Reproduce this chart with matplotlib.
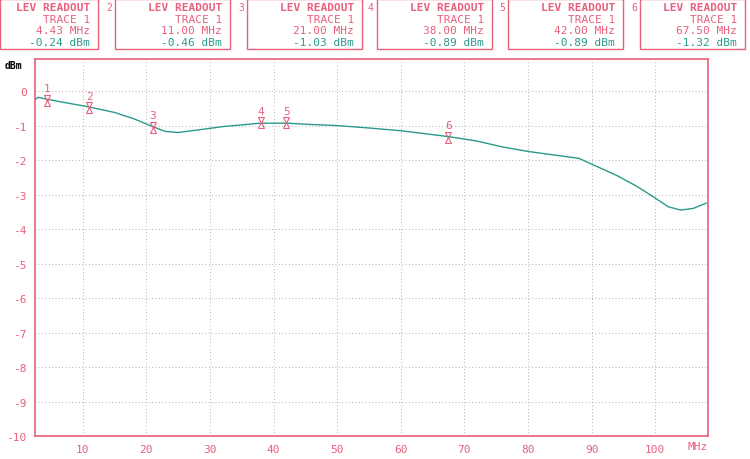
import matplotlib
matplotlib.use("Agg")
import matplotlib.pyplot as plt
import numpy as np

freq = [2.5, 3.0, 4.43, 8, 11.0, 15, 18, 21.0, 23, 25, 28, 32, 38.0, 42.0, 46, 50, 55, 60, 64, 67.5, 72, 76, 80, 84, 88, 91, 94, 97, 100, 102, 104, 106, 108]
level = [-0.25, -0.18, -0.24, -0.36, -0.46, -0.62, -0.8, -1.03, -1.17, -1.2, -1.13, -1.03, -0.93, -0.93, -0.97, -1.0, -1.07, -1.15, -1.24, -1.32, -1.45, -1.62, -1.75, -1.85, -1.95, -2.2, -2.45, -2.75, -3.1, -3.35, -3.45, -3.4, -3.25]
marker_freq = [4.43, 11.0, 21.0, 38.0, 42.0, 67.5]
marker_level = [-0.24, -0.46, -1.03, -0.89, -0.89, -1.32]
marker_label = ["4.43 MHz", "11.00 MHz", "21.00 MHz", "38.00 MHz", "42.00 MHz", "67.50 MHz"]
yticks = list(range(0, -11, -1))
xticks = [10, 20, 30, 40, 50, 60, 70, 80, 90, 100]

pink = "#e8607c"
teal = "#2a9a8c"
mono = "DejaVu Sans Mono"

fig = plt.figure(figsize=(7.5, 4.6), dpi=100)
ax = fig.add_axes([35/750, 1-437/460, (708-35)/750, (437-60)/460])
ax.set_xlim(2.5, 108.3)
ax.set_ylim(-10, 0.93)
ax.plot(freq, level, color=teal, lw=1.0)
for s in ax.spines.values():
    s.set_color(pink); s.set_linewidth(1.2)
ax.set_xticks(xticks)
ax.set_yticks(yticks)
ax.set_xticklabels([str(t) for t in xticks], color=pink, fontsize=8, family=mono)
ax.set_yticklabels([str(t) for t in yticks], color=pink, fontsize=8, family=mono)
ax.tick_params(length=0, pad=6)
ax.grid(True, color="#999999", linestyle=(0, (1, 3)), lw=0.6)
ax.text(1.0, -0.013, "MHz", transform=ax.transAxes, ha="right", va="top", color=pink, fontsize=8, family=mono)
fig.text(5/750, 1-66/460, "dBm", fontsize=7, family=mono, weight="bold", va="center")

for i, (f, l) in enumerate(zip(marker_freq, marker_level)):
    ax.plot([f], [l + 0.05], marker="v", ms=5, mfc="none", mec=pink, mew=0.8)
    ax.plot([f], [l - 0.1], marker="^", ms=5, mfc="none", mec=pink, mew=0.8)
    ax.text(f, l + 0.18, str(i + 1), color=pink, ha="center", va="bottom", fontsize=8, family=mono)

boxes = [(0, 98), (115, 230), (247, 362), (377, 492), (508, 623), (640, 745)]
for i, ((x0, x1), lab, v) in enumerate(zip(boxes, marker_label, marker_level)):
    fig.patches.append(plt.Rectangle((x0/750, 1-50/460), (x1-x0)/750, 50/460, transform=fig.transFigure,
                                     fill=False, ec=pink, lw=1.0))
    xr = (x1 - 8)/750
    fig.text(xr, 1-8/460, "LEV READOUT", ha="right", va="center", color=pink, fontsize=8, family=mono, weight="bold")
    fig.text(xr, 1-20/460, "TRACE 1", ha="right", va="center", color=pink, fontsize=8, family=mono)
    fig.text(xr, 1-31/460, lab, ha="right", va="center", color=pink, fontsize=8, family=mono)
    fig.text(xr, 1-43/460, f"{v:.2f} dBm", ha="right", va="center", color=teal, fontsize=8, family=mono)
    if i > 0:
        fig.text((x0-9)/750, 1-8/460, str(i + 1), color=pink, fontsize=7, family=mono, va="center")

fig.savefig("out.png", dpi=100)
